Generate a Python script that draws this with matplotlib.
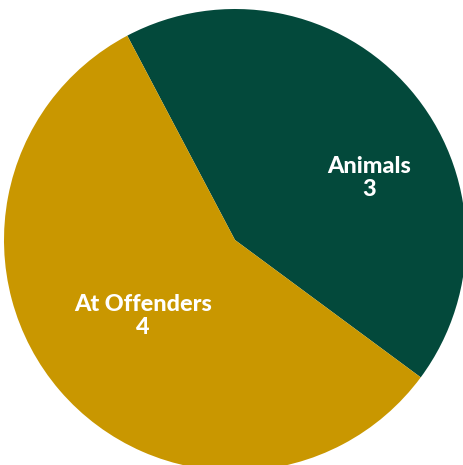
import numpy as np
import matplotlib
matplotlib.use("Agg")
import matplotlib.pyplot as plt

categories = ["Animals", "At Offenders"]
values = [3, 4]
colors = ["#03493b", "#c99700"]

fig = plt.figure(figsize=(4.64, 4.65), dpi=100)
ax = fig.add_axes([0, 0, 1, 1])

r = 231.0
cx, cy = 235.0, 240.0
wedges, _ = ax.pie(values, colors=colors, startangle=117.8, counterclock=False,
                   radius=1.0, wedgeprops=dict(linewidth=0))

ax.set_xlim(-cx / r, (464 - cx) / r)
ax.set_ylim(-(465 - cy) / r, cy / r)
ax.set_aspect("equal")
ax.axis("off")

# label spots (fraction of radius, angle in degrees)
label_pos = [(0.64, 24.8), (0.516, 219.6)]
for name, v, (d, a) in zip(categories, values, label_pos):
    t = np.deg2rad(a)
    ax.text(d * np.cos(t), d * np.sin(t), f"{name}\n{v}", ha="center", va="center",
            color="white", fontsize=16.8, fontweight=900, family=["Lato", "DejaVu Sans"],
            linespacing=1.1)

fig.savefig("out.png", dpi=100)
